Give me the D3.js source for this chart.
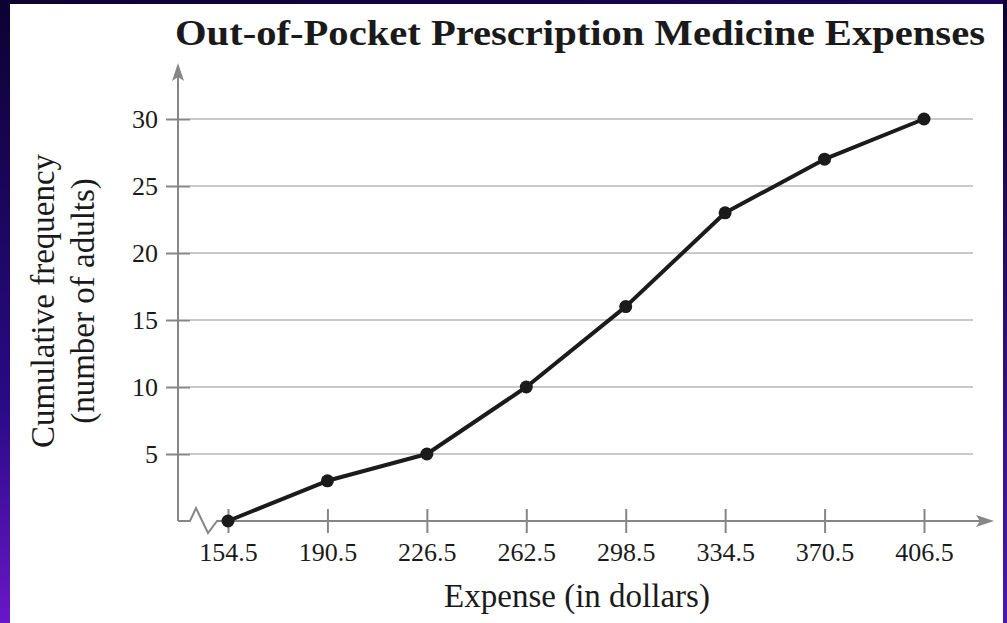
<!DOCTYPE html>
<html>
<head>
<meta charset="utf-8">
<script src="https://cdn.jsdelivr.net/npm/d3@7"></script>
<style>
  html, body { margin: 0; padding: 0; background: #0d0233; }
  svg { display: block; }
</style>
</head>
<body>
<div id="chart"></div>
<script>
const WIDTH = 1007;
const HEIGHT = 623;

// data
const expenses = [154.5, 190.5, 226.5, 262.5, 298.5, 334.5, 370.5, 406.5];
const cumulative = [0, 3, 5, 10, 16, 23, 27, 30];
const yTicks = [5, 10, 15, 20, 25, 30];

const AXIS_COLOR = "#868686";
const GRID_COLOR = "#c9c9c9";
const LINE_COLOR = "#1b1b1b";
const FONT = "'Liberation Serif', 'Times New Roman', serif";

let svg = d3
  .select("#chart")
  .append("svg")
  .attr("width", WIDTH)
  .attr("height", HEIGHT);

//background: dark frame with purple glow at the lower left
let defs = svg.append("defs");
let bg = defs.append("linearGradient")
  .attr("id", "bgGrad")
  .attr("x1", 0).attr("y1", 0).attr("x2", 0.3).attr("y2", 1);
bg.append("stop").attr("offset", "0%").attr("stop-color", "#0c0232");
bg.append("stop").attr("offset", "60%").attr("stop-color", "#2a0a86");
bg.append("stop").attr("offset", "100%").attr("stop-color", "#7a1ad8");

let side = defs.append("linearGradient")
  .attr("id", "sideGrad")
  .attr("x1", 0).attr("y1", 0).attr("x2", 0).attr("y2", 1);
side.append("stop").attr("offset", "0%").attr("stop-color", "#0c0232");
side.append("stop").attr("offset", "100%").attr("stop-color", "#4a18b0");

svg.append("rect").attr("width", WIDTH).attr("height", HEIGHT).attr("fill", "url(#bgGrad)");
svg.append("rect").attr("x", 1003).attr("width", 4).attr("height", HEIGHT).attr("fill", "url(#sideGrad)");

//white panel
svg.append("rect")
  .attr("x", 10)
  .attr("y", 4)
  .attr("width", 993)
  .attr("height", HEIGHT - 4)
  .attr("fill", "#ffffff");

//scales
const x = d3.scaleLinear().domain([154.5, 406.5]).range([228, 924]);
const y = d3.scaleLinear().domain([0, 30]).range([521, 119]);

const originX = 178;
const originY = y(0);

//gridlines
svg.append("g")
  .attr("class", "grid")
  .selectAll("line")
  .data(yTicks)
  .enter()
  .append("line")
  .attr("x1", originX + 12)
  .attr("x2", 973)
  .attr("y1", (d) => y(d))
  .attr("y2", (d) => y(d))
  .attr("stroke", GRID_COLOR)
  .attr("stroke-width", 2);

//y axis (tick marks cross the axis, labels on the left)
let yAxis = d3.axisLeft(y)
  .tickValues(yTicks)
  .tickSize(12)
  .tickPadding(8)
  .tickFormat(d3.format("d"));

let yAxisG = svg.append("g")
  .attr("transform", `translate(${originX},0)`)
  .call(yAxis);
yAxisG.select(".domain").remove();
yAxisG.selectAll(".tick line")
  .attr("x1", 12)
  .attr("x2", -12)
  .attr("stroke", AXIS_COLOR)
  .attr("stroke-width", 2);
yAxisG.selectAll(".tick text")
  .attr("x", -20)
  .attr("dy", "0.34em")
  .attr("fill", "#1a1a1a")
  .style("font-family", FONT)
  .style("font-size", "26px");

//x axis ticks and labels
let xAxis = d3.axisBottom(x)
  .tickValues(expenses)
  .tickSize(12)
  .tickFormat(d3.format(".1f"));

let xAxisG = svg.append("g")
  .attr("transform", `translate(0,${originY})`)
  .call(xAxis);
xAxisG.select(".domain").remove();
xAxisG.selectAll(".tick line")
  .attr("y1", -12)
  .attr("y2", 12)
  .attr("stroke", AXIS_COLOR)
  .attr("stroke-width", 2);
xAxisG.selectAll(".tick text")
  .attr("y", 22)
  .attr("dy", "0.71em")
  .attr("fill", "#1a1a1a")
  .style("font-family", FONT)
  .style("font-size", "26px");

//axis lines with the break symbol on the x axis
svg.append("path")
  .attr("d", `M${originX},${originY} V72`)
  .attr("stroke", AXIS_COLOR)
  .attr("stroke-width", 2)
  .attr("fill", "none");

svg.append("path")
  .attr("d", `M${originX},${originY} H${originX + 12} L${originX + 18},${originY - 13} L${originX + 30},${originY + 12} L${originX + 39},${originY} H984`)
  .attr("stroke", AXIS_COLOR)
  .attr("stroke-width", 2)
  .attr("stroke-linejoin", "miter")
  .attr("fill", "none");

//arrow heads
svg.append("path")
  .attr("d", `M${originX},63 L${originX + 6},81 L${originX},77 L${originX - 6},81 Z`)
  .attr("fill", AXIS_COLOR);
svg.append("path")
  .attr("d", `M994,${originY} L976,${originY - 6} L980,${originY} L976,${originY + 6} Z`)
  .attr("fill", AXIS_COLOR);

//data line and points
let points = expenses.map((e, i) => ({ x: e, y: cumulative[i] }));

svg.append("path")
  .datum(points)
  .attr("d", d3.line().x((d) => x(d.x)).y((d) => y(d.y)))
  .attr("fill", "none")
  .attr("stroke", LINE_COLOR)
  .attr("stroke-width", 4)
  .attr("stroke-linejoin", "round");

svg.append("g")
  .selectAll("circle")
  .data(points)
  .enter()
  .append("circle")
  .attr("cx", (d) => x(d.x))
  .attr("cy", (d) => y(d.y))
  .attr("r", 6.5)
  .attr("fill", LINE_COLOR);

//title
svg.append("text")
  .attr("x", 580)
  .attr("y", 45)
  .attr("text-anchor", "middle")
  .attr("textLength", 810)
  .attr("lengthAdjust", "spacingAndGlyphs")
  .attr("fill", "#1a1a1a")
  .style("font-family", FONT)
  .style("font-weight", "bold")
  .style("font-size", "36px")
  .text("Out-of-Pocket Prescription Medicine Expenses");

//x label
svg.append("text")
  .attr("x", 577)
  .attr("y", 607)
  .attr("text-anchor", "middle")
  .attr("fill", "#1a1a1a")
  .style("font-family", FONT)
  .style("font-size", "33px")
  .text("Expense (in dollars)");

//y label (two lines)
let yLabel = svg.append("text")
  .attr("transform", "translate(0,301) rotate(-90)")
  .attr("text-anchor", "middle")
  .attr("fill", "#1a1a1a")
  .style("font-family", FONT)
  .style("font-size", "33px");
yLabel.append("tspan").attr("x", 0).attr("y", 54).text("Cumulative frequency");
yLabel.append("tspan").attr("x", 0).attr("y", 94).text("(number of adults)");
</script>
</body>
</html>
